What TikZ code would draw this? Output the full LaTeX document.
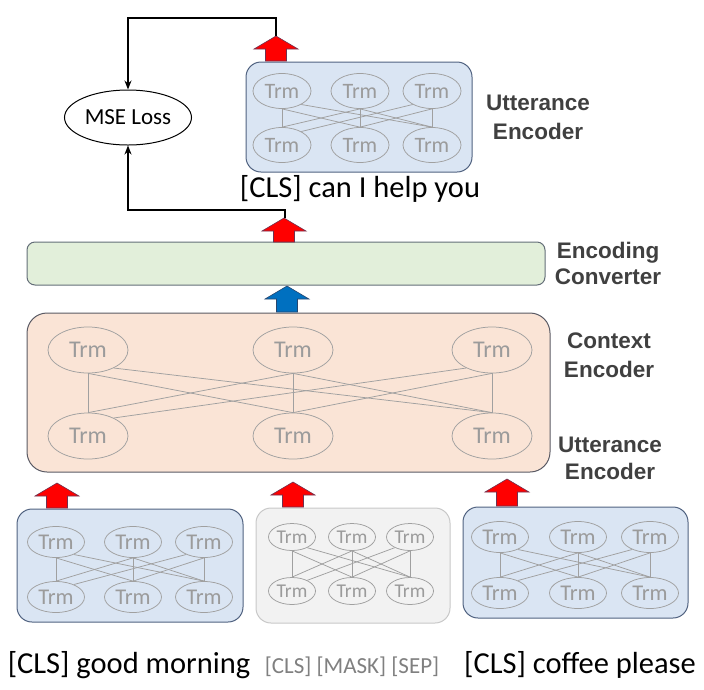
\documentclass[tikz,border=0pt]{standalone}
\usepackage{fontspec}
\setmainfont{Carlito}
\newfontfamily\labfont{Liberation Sans}
\usetikzlibrary{arrows.meta,shapes.geometric}
\definecolor{bluefill}{RGB}{218,229,243}
\definecolor{blueedge}{RGB}{80,98,128}
\definecolor{peach}{RGB}{250,228,214}
\definecolor{peachedge}{RGB}{90,90,100}
\definecolor{greenfill}{RGB}{226,239,218}
\definecolor{greenedge}{RGB}{100,110,120}
\definecolor{grayfill}{RGB}{242,242,242}
\definecolor{grayedge}{RGB}{200,200,200}
\definecolor{trmgray}{RGB}{160,160,160}
\definecolor{trmtext}{RGB}{155,155,155}
\definecolor{arrowred}{RGB}{255,0,0}
\definecolor{arrowrededge}{RGB}{110,50,80}
\definecolor{arrowblue}{RGB}{0,112,192}
\definecolor{arrowblueedge}{RGB}{40,70,110}
\definecolor{labgray}{RGB}{64,64,64}
\definecolor{smalltext}{RGB}{128,128,128}

\newcommand\trmnet[7]{%
  \node[#2] (#1t1) at (#5,#3) {Trm};
  \node[#2] (#1t2) at (#6,#3) {Trm};
  \node[#2] (#1t3) at (#7,#3) {Trm};
  \node[#2] (#1b1) at (#5,#4) {Trm};
  \node[#2] (#1b2) at (#6,#4) {Trm};
  \node[#2] (#1b3) at (#7,#4) {Trm};
  \draw[netline] (#1t1.south) -- (#1b1.north);
  \draw[netline] (#1t2.south) -- (#1b2.north);
  \draw[netline] (#1t3.south) -- (#1b3.north);
  \draw[netline] (#1t1.south) -- (#1b2.north);
  \draw[netline] (#1t2.south) -- (#1b1.north);
  \draw[netline] (#1t2.south) -- (#1b3.north);
  \draw[netline] (#1t3.south) -- (#1b2.north);
  \draw[netline] (#1t1.-35) -- (#1b3.north);
  \draw[netline] (#1t3.-145) -- (#1b1.35);
}
\newcommand\blockup[4]{%
  \path[#4] (#1-22,#2+13) -- (#1,#2) -- (#1+22,#2+13) -- (#1+10.5,#2+13)
    -- (#1+10.5,#3) -- (#1-10.5,#3) -- (#1-10.5,#2+13) -- cycle;
}

\begin{document}
\begin{tikzpicture}[x=1pt,y=-1pt,
  trmbase/.style={ellipse, draw=trmgray, line width=0.75pt, text=trmtext, inner sep=0pt},
  trmtop/.style={trmbase, minimum width=58, minimum height=35, font=\fontsize{22}{22}\selectfont},
  trmctx/.style={trmbase, minimum width=80, minimum height=46, font=\fontsize{24}{24}\selectfont},
  trmsml/.style={trmbase, minimum width=57, minimum height=31, font=\fontsize{22.5}{22.5}\selectfont},
  trmgry/.style={trmbase, minimum width=47, minimum height=27, font=\fontsize{19.5}{19.5}\selectfont},
  netline/.style={draw=trmgray, line width=0.75pt},
  boxbase/.style={rectangle, inner sep=0pt, line width=1pt},
  bluebox/.style={boxbase, draw=blueedge, fill=bluefill, rounded corners=15pt},
  graybox/.style={boxbase, draw=grayedge, fill=grayfill, rounded corners=15pt},
  ctxbox/.style={boxbase, draw=peachedge, fill=peach, rounded corners=20pt},
  convbox/.style={boxbase, draw=greenedge, fill=greenfill, rounded corners=8pt},
  redarrow/.style={fill=arrowred, draw=arrowrededge, line width=0.6pt},
  bluearrow/.style={fill=arrowblue, draw=arrowblueedge, line width=0.6pt},
  conn/.style={draw=black, line width=1.6pt, -{Stealth[length=9pt,width=7pt]}},
  lab/.style={font=\labfont\bfseries\fontsize{22.5}{29}\selectfont, text=labgray, align=center, inner sep=0pt},
  words/.style={font=\fontsize{30.5}{30.5}\selectfont, text=black, inner sep=0pt, anchor=base},
  smallwords/.style={font=\fontsize{23}{23}\selectfont, text=smalltext, inner sep=0pt, anchor=base}
]
\useasboundingbox (0,0) rectangle (704,689);

% boxes
\node[bluebox, minimum width=226, minimum height=110] (ubox) at (359,117) {};
\node[convbox, minimum width=518, minimum height=43] (conv) at (286,263.5) {};
\node[ctxbox, minimum width=523, minimum height=159] (ctx) at (288.5,392.5) {};
\node[bluebox, minimum width=226, minimum height=113] (lbox) at (130,565.5) {};
\node[graybox, minimum width=194, minimum height=115] (gbox) at (353,565.5) {};
\node[bluebox, minimum width=225, minimum height=111] (rbox) at (575.5,562.5) {};

% transformer nets
\trmnet{u}{trmtop}{91}{145}{282}{360}{432}
\trmnet{c}{trmctx}{350}{436}{88}{293}{492}
\trmnet{l}{trmsml}{542}{597}{56}{133}{204}
\trmnet{g}{trmgry}{537}{591}{292}{352}{410}
\trmnet{r}{trmsml}{537}{593}{500}{578}{650}

% block arrows
\blockup{276}{36}{61}{redarrow}
\blockup{284}{218}{242}{redarrow}
\blockup{287}{286}{312}{bluearrow}
\blockup{57}{483}{508}{redarrow}
\blockup{293}{482}{507}{redarrow}
\blockup{507}{479}{506}{redarrow}

% MSE loss
\node[ellipse, draw=black, line width=1pt, fill=white, minimum width=127, minimum height=55, inner sep=0pt, font=\fontsize{23}{23}\selectfont] (mse) at (128,117.5) {MSE Loss};

\coordinate (t1) at (276,36);
\coordinate (c1) at (128,18);
\coordinate (t2) at (285,218);
\coordinate (c2) at (128,210);
\draw[conn] (t1) |- (c1) -- (mse.north);
\draw[conn] (t2) |- (c2) -- (mse.south);

% labels
\node[lab] (labU1) at (538,117.5) {Utterance\\Encoder};
\node[lab, font=\labfont\bfseries\fontsize{22.5}{26}\selectfont] (labEC) at (608,263) {Encoding\\Converter};
\node[lab] (labCE) at (609,355) {Context\\Encoder};
\node[lab, font=\labfont\bfseries\fontsize{22.5}{27}\selectfont] (labU2) at (610,458) {Utterance\\Encoder};

% words
\node[words] (w0) at (360,197) {[CLS] can I help you};
\node[words] (w1) at (129,673) {[CLS] good morning};
\node[smallwords] (w2) at (352,673) {[CLS] [MASK] [SEP]};
\node[words] (w3) at (580,673) {[CLS] coffee please};
\end{tikzpicture}
\end{document}
